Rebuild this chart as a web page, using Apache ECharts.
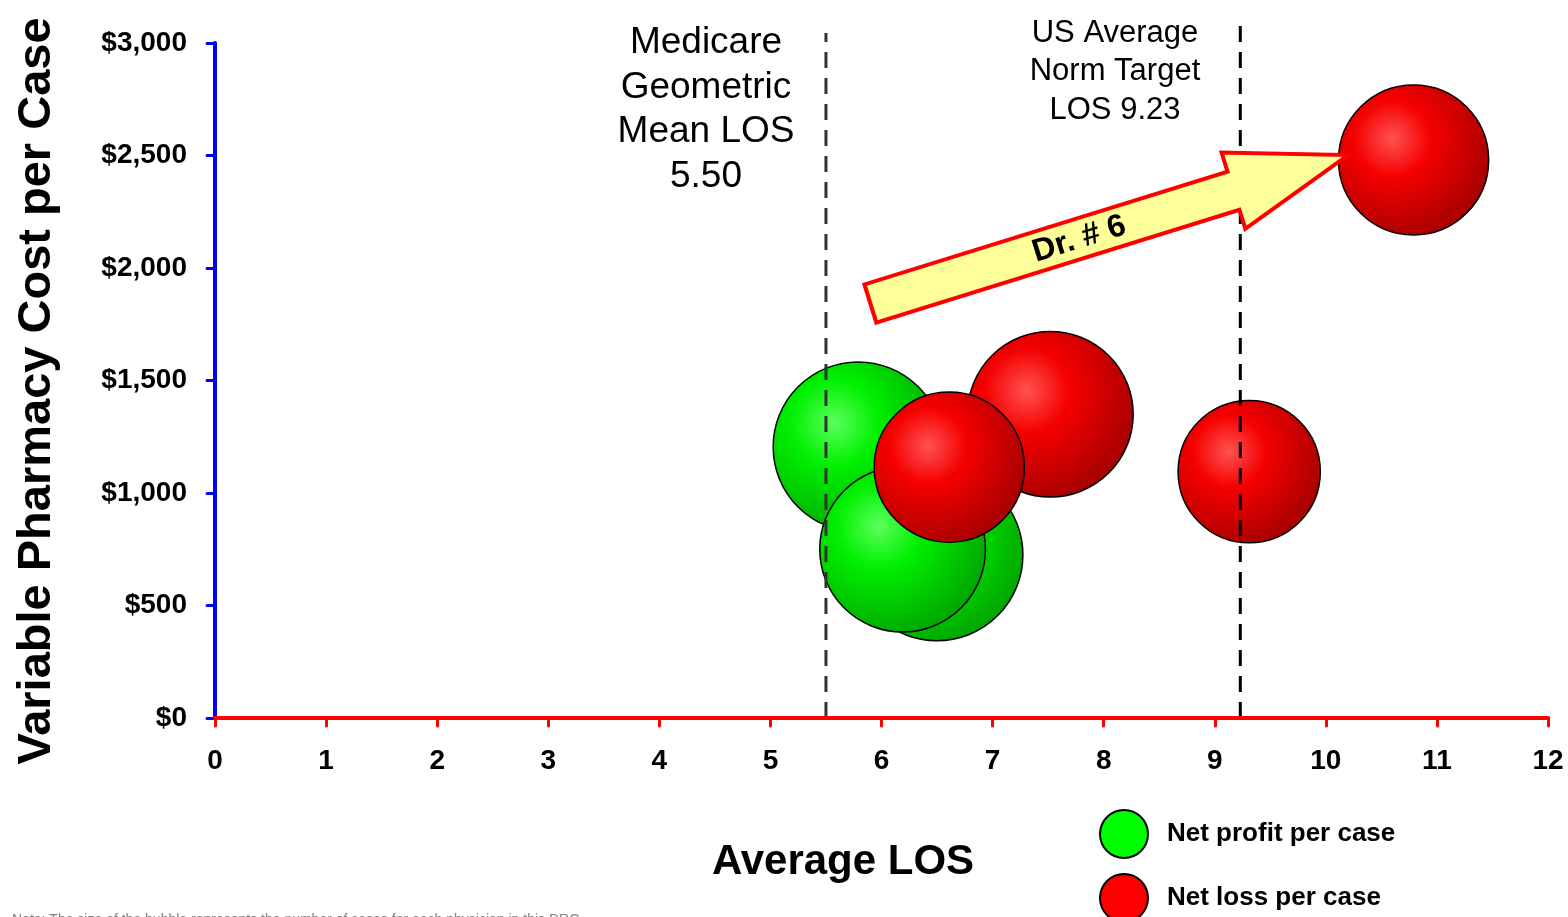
<!DOCTYPE html>
<html>
<head>
<meta charset="utf-8">
<title>Variable Pharmacy Cost per Case vs Average LOS</title>
<script src="https://cdn.jsdelivr.net/npm/echarts@6/dist/echarts.min.js"></script>
<style>
  html, body { margin: 0; padding: 0; background: #ffffff; }
  #chart { width: 1568px; height: 917px; }
</style>
</head>
<body>
<div id="chart"></div>
<script>
// Physician bubbles: [average LOS, variable pharmacy cost per case, case volume]
const profitCases = [
  [5.79, 1205, 100],
  [6.50, 725, 102],
  [6.19, 750, 95]
];
const lossCases = [
  [7.52, 1350, 95],
  [6.61, 1115, 78],
  [9.31, 1095, 70],
  [10.79, 2480, 78]
];

// Benchmark LOS lines
const medicareLOS = 5.50;
const usNormLOS = 9.23;

// Dr. # 6 movement arrow: [fromLOS, fromCost, toLOS, toCost]
const drArrow = [[5.90, 1842, 10.20, 2502]];

// Axis ticks
const xTicks = [0, 1, 2, 3, 4, 5, 6, 7, 8, 9, 10, 11, 12];
const yTicks = [0, 500, 1000, 1500, 2000, 2500, 3000];

const FONT = '"Liberation Sans", Arial, Helvetica, sans-serif';

function bubbleFill(light, mid, dark) {
  return {
    type: 'radial', x: 0.36, y: 0.36, r: 0.72,
    colorStops: [
      { offset: 0, color: light },
      { offset: 0.35, color: mid },
      { offset: 1, color: dark }
    ]
  };
}

const bubbleSize = function (val) { return Math.sqrt(val[2]) * 17; };

function legendBlock(name, color, top) {
  return {
    orient: 'vertical',
    left: 1099,
    top: top,
    padding: 0,
    itemWidth: 48,
    itemHeight: 48,
    icon: 'circle',
    selectedMode: false,
    textStyle: { fontSize: 26, fontWeight: 'bold', color: '#000', fontFamily: FONT, padding: [0, 0, 0, 14] },
    data: [{ name: name, itemStyle: { color: color, borderColor: '#000', borderWidth: 2 } }]
  };
}

const chart = echarts.init(document.getElementById('chart'), null, { renderer: 'canvas' });

const option = {
  backgroundColor: '#ffffff',
  animation: false,
  textStyle: { fontFamily: FONT },
  grid: { left: 215, right: 20, top: 43, bottom: 199, containLabel: false, outerBoundsMode: 'none' },
  xAxis: {
    type: 'value',
    min: xTicks[0],
    max: xTicks[xTicks.length - 1],
    interval: 1,
    z: 5,
    splitLine: { show: false },
    axisLine: { show: true, onZero: false, lineStyle: { color: '#ff0000', width: 4 } },
    axisTick: { show: true, length: 8, lineStyle: { color: '#ff0000', width: 3, cap: 'round' } },
    axisLabel: {
      margin: 29, color: '#000', fontSize: 28, fontWeight: 'bold', fontFamily: FONT
    }
  },
  yAxis: {
    type: 'value',
    min: yTicks[0],
    max: yTicks[yTicks.length - 1],
    interval: 500,
    z: 4,
    splitLine: { show: false },
    axisLine: { show: true, onZero: false, lineStyle: { color: '#0000ff', width: 4 } },
    axisTick: { show: true, length: 8, lineStyle: { color: '#0000ff', width: 3, cap: 'round' } },
    axisLabel: {
      margin: 28, color: '#000', fontSize: 28, fontWeight: 'bold', fontFamily: FONT,
      formatter: function (v) { return '$' + v.toLocaleString('en-US'); }
    }
  },
  legend: [
    legendBlock('Net profit per case', '#00ff00', 809),
    legendBlock('Net loss per case', '#ff0000', 873)
  ],
  series: [
    {
      name: 'Net profit per case',
      type: 'scatter',
      z: 2,
      data: profitCases,
      symbolSize: bubbleSize,
      itemStyle: {
        color: bubbleFill('#5cff5c', '#00f000', '#00a000'),
        borderColor: '#000', borderWidth: 1.5, opacity: 1
      },
      emphasis: { disabled: true }
    },
    {
      name: 'Net loss per case',
      type: 'scatter',
      z: 2,
      data: lossCases,
      symbolSize: bubbleSize,
      itemStyle: {
        color: bubbleFill('#ff5252', '#f50000', '#a00000'),
        borderColor: '#000', borderWidth: 1.5, opacity: 1
      },
      emphasis: { disabled: true }
    },
    {
      name: 'Medicare LOS',
      type: 'line',
      z: 3,
      clip: false,
      silent: true,
      symbol: 'none',
      data: [[medicareLOS, 0], [medicareLOS, 3045]],
      lineStyle: { color: '#333333', width: 3, type: [16, 10] }
    },
    {
      name: 'US Norm LOS',
      type: 'line',
      z: 3,
      clip: false,
      silent: true,
      symbol: 'none',
      data: [[usNormLOS, 0], [usNormLOS, 3080]],
      lineStyle: { color: '#000000', width: 3, type: [16, 10] }
    },
    {
      name: 'Dr. # 6',
      type: 'custom',
      z: 6,
      clip: false,
      silent: true,
      data: drArrow,
      renderItem: function (params, api) {
        const p0 = api.coord([api.value(0), api.value(1)]);
        const p1 = api.coord([api.value(2), api.value(3)]);
        const dx = p1[0] - p0[0], dy = p1[1] - p0[1];
        const len = Math.sqrt(dx * dx + dy * dy);
        const ux = dx / len, uy = dy / len;
        const nx = -uy, ny = ux;
        const shaftHalf = 20, headHalf = 40, headLen = 120;
        const bx = p1[0] - ux * headLen, by = p1[1] - uy * headLen;
        const pts = [
          [p0[0] + nx * shaftHalf, p0[1] + ny * shaftHalf],
          [bx + nx * shaftHalf, by + ny * shaftHalf],
          [bx + nx * headHalf, by + ny * headHalf],
          [p1[0], p1[1]],
          [bx - nx * headHalf, by - ny * headHalf],
          [bx - nx * shaftHalf, by - ny * shaftHalf],
          [p0[0] - nx * shaftHalf, p0[1] - ny * shaftHalf]
        ];
        const t = (len - headLen) * 0.57;
        return {
          type: 'group',
          children: [
            {
              type: 'polygon',
              shape: { points: pts },
              style: { fill: '#ffff99', stroke: '#ff0000', lineWidth: 4, lineJoin: 'miter' }
            },
            {
              type: 'text',
              x: p0[0] + ux * t + 2,
              y: p0[1] + uy * t,
              rotation: -Math.atan2(dy, dx),
              style: {
                text: 'Dr. # 6',
                fontSize: 32, fontWeight: 'bold', fontFamily: FONT, fill: '#000',
                align: 'center', verticalAlign: 'middle'
              }
            }
          ]
        };
      }
    }
  ],
  graphic: [
    {
      type: 'text', x: 706, y: 21, z: 10,
      style: {
        text: 'Medicare\nGeometric\nMean LOS\n5.50',
        fontSize: 37, lineHeight: 44.5, fontFamily: FONT, fill: '#000',
        align: 'center', verticalAlign: 'top'
      }
    },
    {
      type: 'text', x: 1115, y: 14, z: 10,
      style: {
        text: 'US Average\nNorm Target\nLOS 9.23',
        fontSize: 31, lineHeight: 38.5, fontFamily: FONT, fill: '#000',
        align: 'center', verticalAlign: 'top'
      }
    },
    {
      type: 'text', x: 37, y: 391, rotation: Math.PI / 2, z: 10,
      style: {
        text: 'Variable Pharmacy Cost per Case',
        fontSize: 47, fontWeight: 'bold', fontFamily: FONT, fill: '#000',
        align: 'center', verticalAlign: 'middle'
      }
    },
    {
      type: 'text', x: 843, y: 862, z: 10,
      style: {
        text: 'Average LOS',
        fontSize: 42, fontWeight: 'bold', fontFamily: FONT, fill: '#000',
        align: 'center', verticalAlign: 'middle'
      }
    },
    {
      type: 'text', x: 12, y: 913, z: 10,
      style: {
        text: 'Note: The size of the bubble represents the number of cases for each physician in this DRG',
        fontSize: 14, fontFamily: FONT, fill: '#808080',
        align: 'left', verticalAlign: 'top'
      }
    }
  ]
};

chart.setOption(option);
</script>
</body>
</html>
